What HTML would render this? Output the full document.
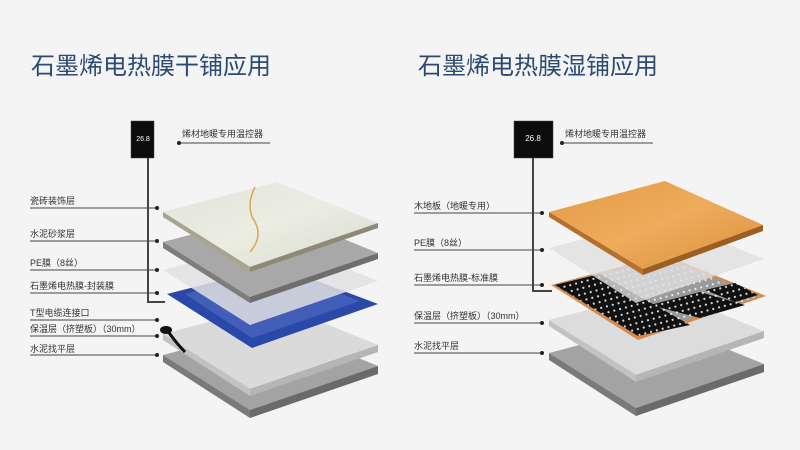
<!DOCTYPE html>
<html><head><meta charset="utf-8"><style>
html,body{margin:0;padding:0;background:#f4f4f4;}
svg{display:block}
text{font-family:"Liberation Sans","Noto Sans CJK SC",sans-serif;}
</style></head><body>
<svg width="800" height="450" viewBox="0 0 800 450" xmlns="http://www.w3.org/2000/svg">
<defs>
<pattern id="dots" width="6" height="6" patternUnits="userSpaceOnUse" patternTransform="rotate(-15)">
<rect width="6" height="6" fill="#111"/><circle cx="3" cy="3" r="1.1" fill="#ddd"/></pattern>
<pattern id="dotsL" width="6" height="6" patternUnits="userSpaceOnUse" patternTransform="rotate(-15)">
<rect width="6" height="6" fill="#9a9a9a"/><circle cx="3" cy="3" r="1.1" fill="#eee"/></pattern>
<linearGradient id="wood" x1="0" y1="0" x2="1" y2="1"><stop offset="0" stop-color="#e39a45"/><stop offset="0.5" stop-color="#eeac5c"/><stop offset="1" stop-color="#d98f3c"/></linearGradient>
<linearGradient id="marble" x1="0" y1="0" x2="1" y2="1"><stop offset="0" stop-color="#dfe4da"/><stop offset="0.5" stop-color="#ecede2"/><stop offset="1" stop-color="#d4dad0"/></linearGradient>
</defs>
<rect width="800" height="450" fill="#f4f4f4"/>
<text x="31" y="74" font-size="24" fill="#2c4a72">石墨烯电热膜干铺应用</text>
<text x="418" y="74" font-size="24" fill="#2c4a72">石墨烯电热膜湿铺应用</text>

<!-- LEFT STACK -->
<g>
<polygon points="163,355 277,325 378,366 250,410" fill="#a3a3a3"/>
<polygon points="163,355 250,410 250,418 163,362" fill="#7a7a7a"/>
<polygon points="250,410 378,366 378,374 250,418" fill="#6a6a6a"/>
<polygon points="163,334 277,304 378,345 250,389" fill="#dadada"/>
<polygon points="163,334 250,389 250,396 163,340" fill="#c2c2c2"/>
<polygon points="250,389 378,345 378,352 250,396" fill="#b5b5b5"/>
<polygon points="167,294 277,266 378,304 252,348" fill="#2a48a8"/>
<polygon points="185,294 277,270 360,301 252,338" fill="#5a74c8" opacity="0.5"/>
<path d="M185,352 q-8,-8 -18,-22" stroke="#111" stroke-width="3" fill="none"/>
<ellipse cx="166" cy="330" rx="6" ry="4" fill="#111"/>
<polygon points="163,270 277,240 378,281 250,325" fill="#e0e0e0" opacity="0.85"/>
<polygon points="163,242 277,212 378,253 250,297" fill="#a8a8a8"/>
<polygon points="163,242 250,297 250,303 163,248" fill="#7d7d7d"/>
<polygon points="250,297 378,253 378,259 250,303" fill="#6e6e6e"/>
<polygon points="163,212 277,182 378,223 250,267" fill="url(#marble)"/>
<polygon points="163,212 250,267 250,272 163,217" fill="#a9a48c"/>
<polygon points="250,267 378,223 378,228 250,272" fill="#8f8a74"/>
<path d="M255,187 q-10,20 0,35 q8,15 -5,30" stroke="#d9a84f" stroke-width="1.5" fill="none"/>
</g>

<rect x="131" y="121" width="23" height="37" fill="#0c0c0c" stroke="#444" stroke-width="0.5"/>
<text x="143" y="141" font-size="7" fill="#fff" text-anchor="middle">26.8</text>
<path d="M148,158 V302 H165" stroke="#444" stroke-width="2" fill="none"/>
<line x1="179" y1="143" x2="270" y2="143" stroke="#444" stroke-width="1"/><circle cx="179" cy="143" r="2" fill="#222"/>
<text x="182" y="137" font-size="9" fill="#333">烯材地暖专用温控器</text>

<g font-size="9" fill="#333">
<text x="30" y="204">瓷砖装饰层</text>
<text x="30" y="237">水泥砂浆层</text>
<text x="30" y="266">PE膜（8丝）</text>
<text x="30" y="289">石墨烯电热膜-封装膜</text>
<text x="30" y="316">T型电缆连接口</text>
<text x="30" y="332">保温层（挤塑板）（30mm）</text>
<text x="30" y="352">水泥找平层</text>
</g>
<g stroke="#444" stroke-width="1">
<line x1="30" y1="208" x2="157" y2="208"/>
<line x1="30" y1="241" x2="157" y2="241"/>
<line x1="30" y1="270" x2="157" y2="270"/>
<line x1="30" y1="293" x2="157" y2="293"/>
<line x1="30" y1="320" x2="157" y2="320"/>
<line x1="30" y1="336" x2="157" y2="336"/>
<line x1="30" y1="355" x2="157" y2="355"/>
</g>
<g fill="#222">
<circle cx="157" cy="208" r="2"/><circle cx="157" cy="241" r="2"/><circle cx="157" cy="270" r="2"/><circle cx="157" cy="293" r="2"/><circle cx="157" cy="320" r="2"/><circle cx="157" cy="336" r="2"/><circle cx="157" cy="355" r="2"/>
</g>

<!-- RIGHT STACK -->
<g>
<polygon points="549,353 663,323 764,364 636,408" fill="#a3a3a3"/>
<polygon points="549,353 636,408 636,416 549,360" fill="#7a7a7a"/>
<polygon points="636,408 764,364 764,372 636,416" fill="#6a6a6a"/>
<polygon points="549,320 663,290 764,331 636,375" fill="#dcdcdc"/>
<polygon points="549,320 636,375 636,382 549,326" fill="#c2c2c2"/>
<polygon points="636,375 764,331 764,338 636,382" fill="#b5b5b5"/>
<polygon points="551,285 665,255 766,296 638,340" fill="#d8884a"/>
<polygon points="555,285 665,258 760,296 638,336" fill="url(#dotsL)"/>
<polygon points="555,285 600,274 690,325 638,336" fill="url(#dots)"/>
<polygon points="650,305 700,292 745,305 700,318" fill="url(#dots)"/>
<polygon points="705,290 735,283 758,295 735,302" fill="url(#dots)"/>
<polygon points="549,248 663,218 764,259 636,303" fill="#e0e0e0" opacity="0.8"/>
<polygon points="549,212 665,181 763,225 643,269" fill="url(#wood)"/>
<polygon points="549,212 643,269 643,275 549,217" fill="#b4702c"/>
<polygon points="643,269 763,225 763,231 643,275" fill="#9c5f22"/>
</g>

<rect x="514" y="121" width="39" height="37" fill="#0c0c0c" stroke="#444" stroke-width="0.5"/>
<text x="533" y="141" font-size="8" fill="#fff" text-anchor="middle">26.8</text>
<path d="M533,158 V291 H552" stroke="#444" stroke-width="2" fill="none"/>
<line x1="562" y1="143" x2="653" y2="143" stroke="#444" stroke-width="1"/><circle cx="562" cy="143" r="2" fill="#222"/>
<text x="565" y="137" font-size="9" fill="#333">烯材地暖专用温控器</text>

<g font-size="9" fill="#333">
<text x="414" y="209">木地板（地暖专用）</text>
<text x="414" y="246">PE膜（8丝）</text>
<text x="414" y="281">石墨烯电热膜-标准膜</text>
<text x="414" y="319">保温层（挤塑板）（30mm）</text>
<text x="414" y="349">水泥找平层</text>
</g>
<g stroke="#444" stroke-width="1">
<line x1="414" y1="213" x2="542" y2="213"/>
<line x1="414" y1="250" x2="542" y2="250"/>
<line x1="414" y1="285" x2="542" y2="285"/>
<line x1="414" y1="323" x2="542" y2="323"/>
<line x1="414" y1="353" x2="542" y2="353"/>
</g>
<g fill="#222">
<circle cx="542" cy="213" r="2"/><circle cx="542" cy="250" r="2"/><circle cx="542" cy="285" r="2"/><circle cx="542" cy="323" r="2"/><circle cx="542" cy="353" r="2"/>
</g>
</svg>
</body></html>
